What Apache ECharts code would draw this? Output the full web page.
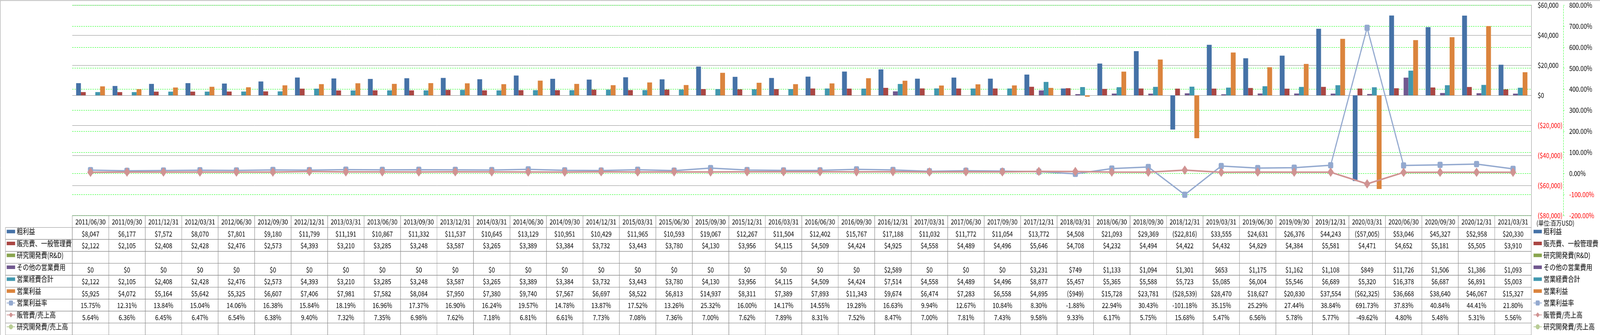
<!DOCTYPE html>
<html><head><meta charset="utf-8">
<script src="https://cdn.jsdelivr.net/npm/echarts@6/dist/echarts.min.js"></script>
<style>html,body{margin:0;padding:0;background:#fff;overflow:hidden}#wrap{width:4981px;height:858px;transform-origin:0 0}#c{width:4981px;height:858px}</style>
</head><body><div id="wrap"><div id="c"></div></div>
<script>
const categories = ['2011/06/30','2011/09/30','2011/12/31','2012/03/31','2012/06/30','2012/09/30','2012/12/31','2013/03/31','2013/06/30','2013/09/30','2013/12/31','2014/03/31','2014/06/30','2014/09/30','2014/12/31','2015/03/31','2015/06/30','2015/09/30','2015/12/31','2016/03/31','2016/06/30','2016/09/30','2016/12/31','2017/03/31','2017/06/30','2017/09/30','2017/12/31','2018/03/31','2018/06/30','2018/09/30','2018/12/31','2019/03/31','2019/06/30','2019/09/30','2019/12/31','2020/03/31','2020/06/30','2020/09/30','2020/12/31','2021/03/31'];
const grossProfit = [8047,6177,7572,8070,7801,9180,11799,11191,10867,11332,11537,10645,13129,10951,10429,11965,10593,19067,12267,11504,12402,15767,17188,11032,11772,11054,13772,4508,21093,29369,-22816,33555,24631,26376,44243,-57005,53046,45327,52958,20330];
const sga = [2122,2105,2408,2428,2476,2573,4393,3210,3285,3248,3587,3265,3389,3384,3732,3443,3780,4130,3956,4115,4509,4424,4925,4558,4489,4496,5646,4708,4232,4494,4422,4432,4829,4384,5581,4471,4652,5181,5505,3910];
const rnd = [null,null,null,null,null,null,null,null,null,null,null,null,null,null,null,null,null,null,null,null,null,null,null,null,null,null,null,null,null,null,null,null,null,null,null,null,null,null,null,null];
const otherOpex = [0,0,0,0,0,0,0,0,0,0,0,0,0,0,0,0,0,0,0,0,0,0,2589,0,0,0,3231,749,1133,1094,1301,653,1175,1162,1108,849,11726,1506,1386,1093];
const totalOpex = [2122,2105,2408,2428,2476,2573,4393,3210,3285,3248,3587,3265,3389,3384,3732,3443,3780,4130,3956,4115,4509,4424,7514,4558,4489,4496,8877,5457,5365,5588,5723,5085,6004,5546,6689,5320,16378,6687,6891,5003];
const opIncome = [5925,4072,5164,5642,5325,6607,7406,7981,7582,8084,7950,7380,9740,7567,6697,8522,6813,14937,8311,7389,7893,11343,9674,6474,7283,6558,4895,-949,15728,23781,-28539,28470,18627,20830,37554,-62325,36668,38640,46067,15327];
const opMargin = [15.75,12.31,13.84,15.04,14.06,16.38,15.84,18.19,16.96,17.37,16.90,16.24,19.57,14.78,13.87,17.52,13.26,25.32,16.00,14.17,14.55,19.28,16.63,9.94,12.67,10.84,8.30,-1.88,22.94,30.43,-101.18,35.15,25.29,27.44,38.84,691.73,37.83,40.84,44.41,21.80];
const sgaRatio = [5.64,6.36,6.45,6.47,6.54,6.38,9.40,7.32,7.35,6.98,7.62,7.18,6.81,6.61,7.73,7.08,7.36,7.00,7.62,7.89,8.31,7.52,8.47,7.00,7.81,7.43,9.58,9.33,6.17,5.75,15.68,5.47,6.56,5.78,5.77,-49.62,4.80,5.48,5.31,5.56];
const rndRatio = [null,null,null,null,null,null,null,null,null,null,null,null,null,null,null,null,null,null,null,null,null,null,null,null,null,null,null,null,null,null,null,null,null,null,null,null,null,null,null,null];
const rowNames = ['粗利益','販売費、一般管理費','研究開発費(R&D)','その他の営業費用','営業経費合計','営業利益','営業利益率','販管費/売上高','研究開発費/売上高'];
const moneyTicks = {min:-80000, max:60000, interval:20000};
const pctTicks = {min:-200, max:800, interval:100};

const FONT = "'Noto Sans CJK JP', 'Noto Sans', sans-serif";
const colors = ['#4572A7','#AA4643','#89A54E','#71588F','#4198AF','#DB843D','#93A9CF','#D09392','#B9CD96'];

// fit the 4981x858 design into the real viewport
const W = 4981, H = 858;
const vw = window.innerWidth || W, vh = window.innerHeight || H;
document.getElementById('wrap').style.transform = 'scale(' + (vw / W) + ',' + (vh / H) + ')';

function commas(n){ return String(Math.round(Math.abs(n))).replace(/\B(?=(\d{3})+(?!\d))/g, ','); }
function money(v){ if (v === null || v === undefined) return ''; return v < 0 ? '($' + commas(v) + ')' : '$' + commas(v); }
function pct(v){ if (v === null || v === undefined) return ''; return v.toFixed(2) + '%'; }

const rowSeriesData = [grossProfit, sga, rnd, otherOpex, totalOpex, opIncome, opMargin, sgaRatio, rndRatio];
const rowFormat = [money, money, money, money, money, money, pct, pct, pct];

const cells = [], cellTexts = [];
for (let c = 0; c < categories.length; c++) {
  cells.push([c, 0]); cellTexts.push(categories[c]);
  for (let r = 0; r < rowNames.length; r++) {
    cells.push([c, r + 1]); cellTexts.push(rowFormat[r](rowSeriesData[r][c]));
  }
}
const headerCells = rowNames.map((n, i) => [0, i + 1]);

const barIcon = 'path://M0,0H26V9H0Z';
const legendData = rowNames.map((n, i) => i < 6 ? {name: n, icon: barIcon} : {name: n});
const legendBase = {
  orient: 'vertical', itemWidth: 26, itemHeight: 16, itemGap: 10.5, padding: 0,
  textStyle: {fontSize: 19, lineHeight: 20, color: '#000', fontFamily: FONT},
  data: legendData, selectedMode: false
};

const series = [];
for (let i = 0; i < 6; i++) {
  series.push({
    type: 'bar', name: rowNames[i], data: rowSeriesData[i], xAxisIndex: 0, yAxisIndex: 0,
    barGap: '0%', barCategoryGap: '21%', itemStyle: {color: colors[i]}
  });
}
const lineSymbols = [['roundRect', 16], ['diamond', [20, 24]], ['circle', 16]];
for (let i = 6; i < 9; i++) {
  series.push({
    type: 'line', name: rowNames[i], data: rowSeriesData[i], xAxisIndex: 0, yAxisIndex: 1,
    symbol: lineSymbols[i - 6][0], symbolSize: lineSymbols[i - 6][1],
    itemStyle: {color: colors[i]}, lineStyle: {color: colors[i], width: i === 6 ? 3.5 : 4}, z: 3 + i
  });
}
series.push({
  type: 'custom', name: 'table', xAxisIndex: 1, yAxisIndex: 2, data: cells, silent: true,
  encode: {x: 0, y: 1},
  renderItem(params, api) {
    const p = api.coord([api.value(0), api.value(1)]);
    const s = api.size([1, 1]);
    return {type: 'group', children: [
      {type: 'rect', shape: {x: p[0] - s[0] / 2, y: p[1] - s[1] / 2, width: s[0], height: s[1]},
       style: {fill: null, stroke: '#8c8c8c', lineWidth: 1}},
      {type: 'text', x: p[0], y: p[1] + 1,
       style: {text: cellTexts[params.dataIndex], fill: '#000', fontSize: 18, fontFamily: FONT, align: 'center', verticalAlign: 'middle'}}
    ]};
  }
});
series.push({
  type: 'custom', name: 'rowHeader', xAxisIndex: 1, yAxisIndex: 2, data: headerCells, silent: true,
  encode: {x: 0, y: 1},
  renderItem(params, api) {
    const p = api.coord([api.value(0), api.value(1)]);
    const s = api.size([1, 1]);
    const w = 208;
    return {type: 'rect', shape: {x: p[0] - s[0] / 2 - w, y: p[1] - s[1] / 2, width: w, height: s[1]},
      style: {fill: null, stroke: '#8c8c8c', lineWidth: 1}};
  }
});

const chart = echarts.init(document.getElementById('c'), null, {width: W, height: H});
chart.setOption({
  animation: false,
  backgroundColor: '#fff',
  textStyle: {fontFamily: FONT},
  grid: [
    {left: 225, right: 214, top: 13, bottom: 306, outerBoundsMode: 'none', containLabel: false},
    {left: 225, right: 214, top: 552, bottom: 0, outerBoundsMode: 'none', containLabel: false}
  ],
  legend: [Object.assign({}, legendBase, {left: 20, top: 583}), Object.assign({}, legendBase, {left: 4773, top: 583})],
  xAxis: [
    {type: 'category', gridIndex: 0, data: categories, show: false},
    {type: 'category', gridIndex: 1, data: categories, show: false}
  ],
  yAxis: [
    {type: 'value', gridIndex: 0, position: 'right', min: moneyTicks.min, max: moneyTicks.max, interval: moneyTicks.interval,
     axisLine: {show: true, lineStyle: {color: '#8c8c8c', width: 1}}, axisTick: {show: false},
     axisLabel: {margin: 20, fontSize: 18, fontFamily: FONT, formatter: v => money(v), color: v => (v < 0 ? '#FF0000' : '#000')},
     splitLine: {show: true, lineStyle: {color: '#8c8c8c', width: 1}}},
    {type: 'value', gridIndex: 0, position: 'right', offset: 100, min: pctTicks.min, max: pctTicks.max, interval: pctTicks.interval,
     axisLine: {show: true, lineStyle: {color: '#00FF00', width: 1, type: [4, 3]}},
     axisTick: {show: true, length: 3, lineStyle: {color: '#00FF00'}},
     axisLabel: {margin: 18, fontSize: 18, fontFamily: FONT, formatter: v => pct(v), color: v => (v < 0 ? '#FF0000' : '#000')},
     splitLine: {show: true, lineStyle: {color: '#00FF00', width: 1, type: [4, 3]}}},
    {type: 'category', gridIndex: 1, data: [''].concat(rowNames), inverse: true, show: false}
  ],
  graphic: [
    {type: 'polyline', shape: {points: [[0.5, 858], [0.5, 1.5], [4981, 1.5]]}, style: {stroke: '#8c8c8c', fill: null, lineWidth: 1}, silent: true},
    {type: 'text', left: 4783, top: 563, style: {text: '(単位:百万USD)', fontSize: 17, fontFamily: FONT, fill: '#000'}, silent: true}
  ],
  series: series
});
</script>
</body></html>
